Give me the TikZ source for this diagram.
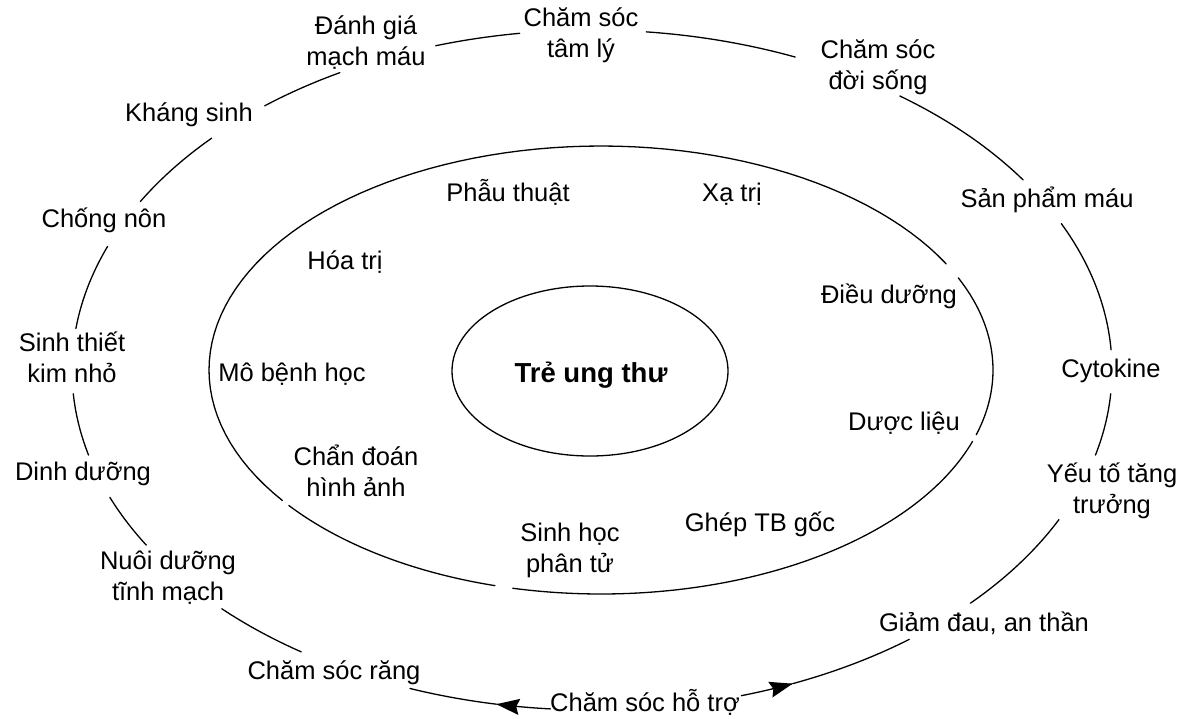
\documentclass[tikz,border=0pt]{standalone}
\usepackage{fontspec}
\setmainfont{Liberation Sans}
\usetikzlibrary{arrows.meta}
\newcommand\outarc[2]{plot[domain=#1:#2,samples=50,variable=\x]({592+520*cos(\x)},{370-340*sin(\x)})}
\newcommand\midarc[2]{plot[domain=#1:#2,samples=80,variable=\x]({601+392*cos(\x)},{370-224*sin(\x)})}
\begin{document}
\begin{tikzpicture}[x=1pt,y=-1pt,
  lbl/.style={font=\fontsize{25.5}{31}\selectfont, inner sep=0pt, align=center,
    execute at begin node=\strut, execute at end node=\strut},
  core/.style={font=\fontsize{27.5}{33}\selectfont\bfseries, inner sep=0pt},
  ol/.style={line width=1.3pt, line join=round, line cap=round},
  tip/.style={-{Stealth[length=23pt,width=16pt,inset=3pt]}}]
\useasboundingbox (0,0) rectangle (1189,718);

% inner ellipse
\draw[ol] (590,371) ellipse [x radius=138pt, y radius=85pt];
\node[core] (tre) at (591,375) {Trẻ ung thư};

% middle ellipse (with small gaps)
\draw[ol] \midarc{28.3}{215.6};
\draw[ol] \midarc{217.2}{254.3};
\draw[ol] \midarc{257}{341.4};
\draw[ol] \midarc{343.2}{384.3};

% middle labels
\node[lbl] (pt) at (508,195) {Phẫu thuật};
\node[lbl] (xt) at (732,195) {Xạ trị};
\node[lbl] (hoa) at (345,263) {Hóa trị};
\node[lbl] (dw) at (889,297) {Điều dưỡng};
\node[lbl] (mb) at (292,375) {Mô bệnh học};
\node[lbl] (dl) at (904,424) {Dược liệu};
\node[lbl] (cd) at (356,475) {Chẩn đoán\\hình ảnh};
\node[lbl] (sh) at (570,552) {Sinh học\\phân tử};
\node[lbl] (gh) at (760,525) {Ghép TB gốc};

% outer labels
\node[lbl] (dg) at (366,45) {Đánh giá\\mạch máu};
\node[lbl] (tl) at (581,37) {Chăm sóc\\tâm lý};
\node[lbl] (ds) at (878,69) {Chăm sóc\\đời sống};
\node[lbl] (sp) at (1047,201) {Sản phẩm máu};
\node[lbl] (cy) at (1111,371) {Cytokine};
\node[lbl] (yt) at (1112,493) {Yếu tố tăng\\trưởng};
\node[lbl] (gd) at (984,625) {Giảm đau, an thần};
\node[lbl] (ht) at (645,705) {Chăm sóc hỗ trợ};
\node[lbl] (cr) at (334,673) {Chăm sóc răng};
\node[lbl] (nd) at (168,580) {Nuôi dưỡng\\tĩnh mạch};
\node[lbl] (dd) at (83,474) {Dinh dưỡng};
\node[lbl] (st) at (72,362) {Sinh thiết\\kim nhỏ};
\node[lbl] (cn) at (104,221) {Chống nôn};
\node[lbl] (ks) at (189,115) {Kháng sinh};

% outer ring segments between labels
\draw[ol] \outarc{3.4}{25.5};
\draw[ol] \outarc{34}{53.7};
\draw[ol] \outarc{67}{84};
\draw[ol] \outarc{98}{107.5};
\draw[ol] \outarc{119}{129};
\draw[ol] \outarc{137}{150.3};
\draw[ol] \outarc{158.7}{173};
\draw[ol] \outarc{184}{194.5};
\draw[ol] \outarc{202}{211};
\draw[ol] \outarc{224.6}{236};
\draw[ol] \outarc{249.5}{259.4};
\draw[ol,tip] \outarc{265.4}{259.4};
\draw[ol,tip] \outarc{286.7}{292.7};
\draw[ol] \outarc{292.7}{307.6};
\draw[ol] \outarc{316.7}{333.9};
\draw[ol] \outarc{345.5}{356};
\end{tikzpicture}
\end{document}
